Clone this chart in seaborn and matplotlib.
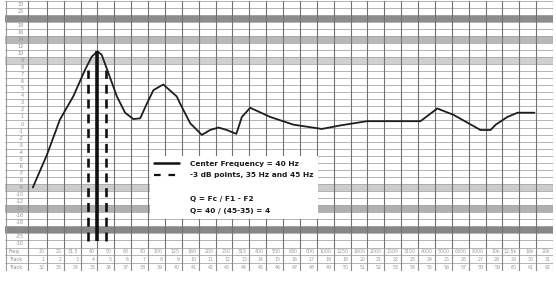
import numpy as np
import pandas as pd
import matplotlib
matplotlib.use("Agg")
import matplotlib.pyplot as plt
from matplotlib.lines import Line2D
import seaborn as sns

# ---------------- data ----------------
row_values = [30, 25, 20, 18, 16, 14, 12, 10, 9, 8, 7, 6, 5, 4, 3, 2, 1, 0,
              -1, -2, -3, -4, -5, -6, -7, -8, -9, -10, -12, -14, -16, -18, -20, -25, -30]
shaded_rows = {20: "#8c8c8c", 14: "#b8b8b8", 9: "#d0d0d0",
               -9: "#cccccc", -14: "#b0b0b0", -20: "#878787"}

freq_labels = ["20", "25", "31.5", "40", "50", "63", "80", "100", "125", "160", "200",
               "250", "315", "400", "500", "630", "800", "1000", "1250", "1600", "2000",
               "2500", "3150", "4000", "5000", "6300", "8000", "10k", "12.5k", "16k", "20k"]
track_a = ["1", "2", "3", "4", "5", "6", "7", "8", "9", "10", "11", "12", "13", "14", "15", "16",
           "17", "18", "19", "20", "21", "22", "23", "24", "25", "26", "27", "28", "29", "30", "31"]
track_b = ["32", "33", "34", "35", "36", "37", "38", "39", "40", "41", "42", "43", "44", "45", "46",
           "47", "48", "49", "50", "51", "52", "53", "54", "55", "56", "57", "58", "59", "60", "61", "62"]

curve_hz = [16.5, 20, 23.9, 28.7, 33.7, 37.0, 40, 42.4, 46.5, 52.2, 58.4, 65.4, 71.8, 78.7,
            86.1, 98.5, 118.5, 124, 142.5, 167, 187, 210, 235, 268, 289, 324, 426, 587, 864,
            1114, 1606, 3338, 4198, 5240, 7586, 8712, 9336, 10974, 12607, 15887]
curve_db = [-9.0, -4.4, 0.6, 3.9, 7.65, 9.54, 10.6, 9.8, 7.2, 3.9, 1.6, 0.7, 0.8, 2.9,
            4.8, 5.6, 3.9, 2.9, 0.1, -1.55, -0.85, -0.5, -0.85, -1.4, 1.0, 2.3, 1.0, -0.1, -0.7,
            -0.2, 0.4, 0.4, 2.2, 1.3, -0.85, -0.85, -0.1, 1.0, 1.6, 1.6]

center_hz = 40
center_top_db = 10.6
edge_hz = [35, 45]
edge_top_db = 7.6
marker_bottom_db = -28

legend_labels = ["Center Frequency = 40 Hz", "-3 dB points, 35 Hz and 45 Hz", " ",
                 "Q = Fc / F1 - F2", "Q= 40 / (45-35) = 4"]

# ---------------- scales ----------------
n_rows = len(row_values)
vals_asc = np.array([-32.5] + row_values[::-1] + [32.5], dtype=float)
pos_asc = np.array([-0.5] + list(range(n_rows)) + [n_rows - 0.5], dtype=float)

def fwd(v):
    return np.interp(v, vals_asc, pos_asc)

def inv(p):
    return np.interp(p, pos_asc, vals_asc)

grid_hz = [20 * 2 ** (i / 3) for i in range(len(freq_labels))]
left_hz = 20 * 2 ** (-2.48 / 3)
label_col_hz = 20 * 2 ** (-1.1 / 3)

sns.set_style("white")
plt.rcParams["font.family"] = ["DejaVu Sans"]

fig = plt.figure(figsize=(5.56, 2.81), dpi=100)
ax = fig.add_axes([5 / 556, 1 - 247.5 / 281, 548 / 556, 247 / 281])
tx = fig.add_axes([5 / 556, 1 - 271 / 281, 548 / 556, 23.5 / 281], sharex=ax)

ax.set_xscale("log", base=2)
ax.set_yscale("function", functions=(fwd, inv))

# shaded rows
for i, v in enumerate(row_values):
    p = n_rows - 1 - i
    if v in shaded_rows:
        ax.axhspan(inv(p - 0.5), inv(p + 0.5), color=shaded_rows[v], lw=0, zorder=0)
# horizontal lines
for i in range(n_rows + 1):
    ax.axhline(inv(i - 0.5), color="#a8a8a8", lw=0.6, zorder=1)
# vertical lines
for f in grid_hz:
    ax.axvline(f, color="#727272", lw=0.8, zorder=1)
ax.axvline(label_col_hz, color="#727272", lw=0.8, zorder=1)
ax.axvline(left_hz * 1.01, color="#9a9a9a", lw=0.8, zorder=1)

# row labels
for i, v in enumerate(row_values):
    ax.text(label_col_hz * 0.94, v, str(v), ha="right", va="center",
            fontsize=3.6, color="#909090", zorder=2)

# curve
df = pd.DataFrame({"hz": curve_hz, "db": curve_db})
sns.lineplot(data=df, x="hz", y="db", ax=ax, color="#1e1e1e", lw=1.3,
             estimator=None, sort=False, zorder=5)

ax.vlines(center_hz, marker_bottom_db, center_top_db, color="#111111", lw=2.6, zorder=6)
ax.vlines(edge_hz, marker_bottom_db, edge_top_db, color="#111111", lw=1.9,
          linestyles=[(0, (3.4, 2.2))], zorder=6)

ax.set_xlim(left_hz, grid_hz[-1])
ax.set_ylim(-32.5, 32.5)
ax.set_xticks([])
ax.set_yticks([])
ax.minorticks_off()
ax.set_xlabel("")
ax.set_ylabel("")
for s in ax.spines.values():
    s.set_visible(False)

# legend
handles = [Line2D([], [], color="#111111", lw=1.8),
           Line2D([], [], color="#111111", lw=1.6, ls=(0, (3, 3.5))),
           Line2D([], [], color="none"),
           Line2D([], [], color="none"),
           Line2D([], [], color="none")]
leg = ax.legend(handles, legend_labels, loc="upper left",
                bbox_to_anchor=(150 / 556, 1 - 156 / 281), bbox_transform=fig.transFigure,
                frameon=True, facecolor="white", edgecolor="none", framealpha=1,
                fancybox=False, prop={"size": 5.3, "weight": "bold"},
                handlelength=3.4, handletextpad=1.5, labelspacing=0.78,
                borderpad=0.6, borderaxespad=0)
leg.set_zorder(10)
for t in leg.get_texts():
    t.set_color("#1a1a1a")

# table below
tx.set_ylim(3, 0)
for y in [0, 1, 2, 3]:
    tx.axhline(y, color="#a8a8a8", lw=0.6)
for f in grid_hz:
    tx.axvline(f, color="#8a8a8a", lw=0.8)
tx.axvline(label_col_hz, color="#8a8a8a", lw=0.8)
tx.axvline(left_hz * 1.01, color="#9a9a9a", lw=0.8)
row_names = ["Freq", "Track", "Track"]
rows = [freq_labels, track_a, track_b]
for r, (name, labels) in enumerate(zip(row_names, rows)):
    tx.text(left_hz * 1.05, r + 0.5, name, ha="left", va="center", fontsize=3.6, color="#8a8a8a")
    for f, lab in zip(grid_hz, labels):
        tx.text(f * 0.97, r + 0.5, lab, ha="right", va="center", fontsize=3.4, color="#9a9a9a")
tx.set_xticks([])
tx.set_yticks([])
tx.minorticks_off()
for s in tx.spines.values():
    s.set_visible(False)

fig.savefig("out.png", dpi=100)
